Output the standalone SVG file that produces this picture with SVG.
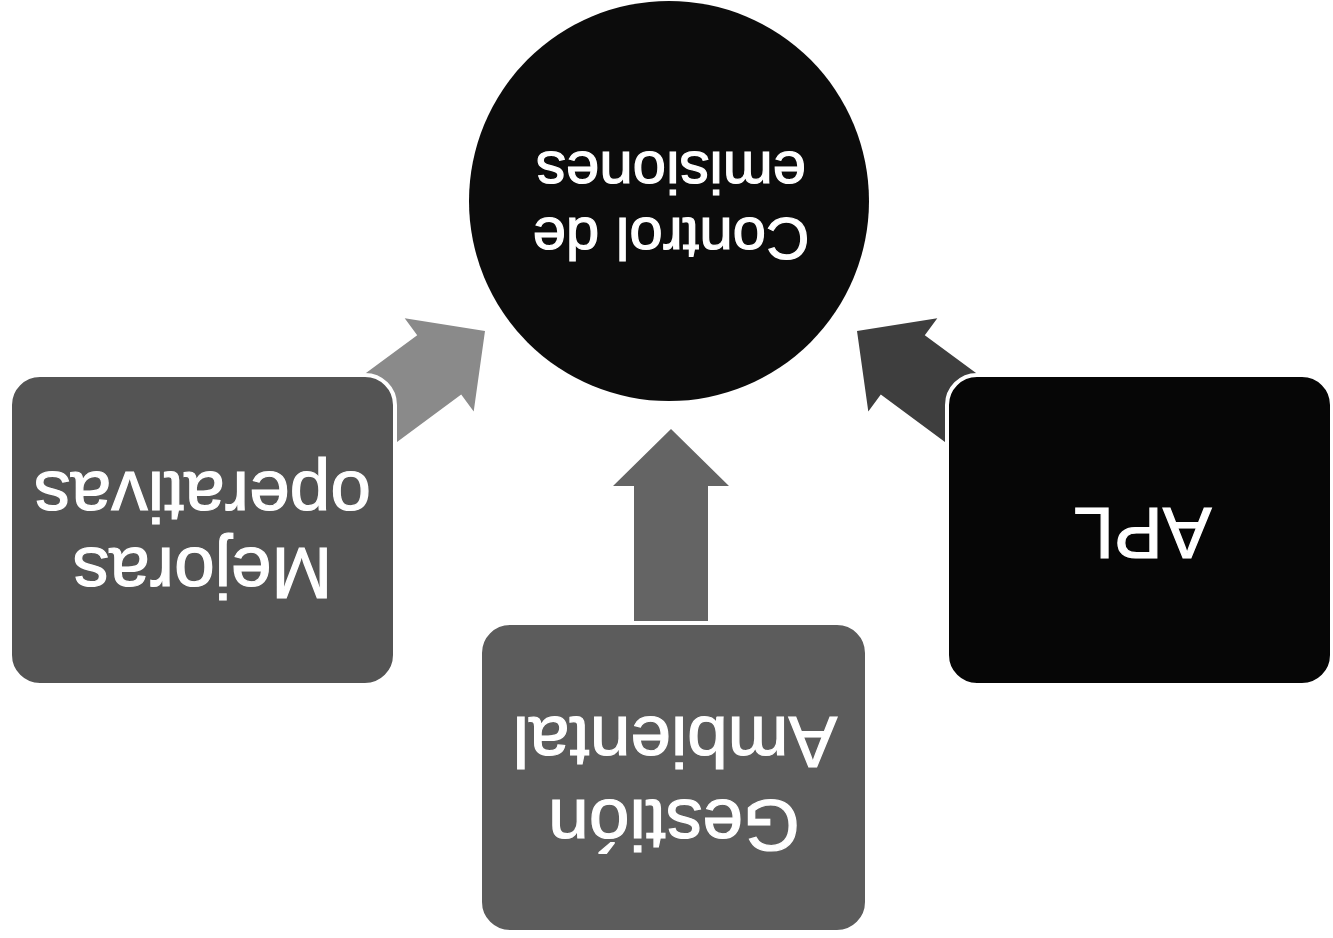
<svg xmlns="http://www.w3.org/2000/svg" width="1333" height="938" viewBox="0 0 1333 938">
<style>
.lbl{font-family:"Liberation Sans",Arial,sans-serif;fill:#ffffff;stroke:#ffffff;stroke-width:1.2;text-anchor:middle}
.box{font-size:73px}
.circ{font-size:60px}
.node{stroke:#ffffff;stroke-width:4}
</style>
<rect width="1333" height="938" fill="#ffffff"/>
<g id="connectors">
<polygon fill="#8a8a8a" points="485,331 404.7,318.3 417.2,335.2 336.8,394.6 380.8,454 461.2,394.6 473.7,411.5"/>
<polygon fill="#3e3e3e" points="857,331 937.3,318.3 924.8,335.2 1005.2,394.6 961.2,454 880.8,394.6 868.3,411.5"/>
<polygon fill="#646464" points="671,429 729,486 708,486 708,645 634,645 634,486 613,486"/>
</g>
<g id="node-center">
<circle cx="669" cy="201" r="200" fill="#0c0c0c"/>
<text class="lbl circ" x="671" y="218" transform="rotate(180 671 218)">Control de</text>
<text class="lbl circ" x="671" y="152" transform="rotate(180 671 152)">emisiones</text>
</g>
<g id="node-mejoras">
<rect class="node" x="10" y="375" width="385" height="310" rx="30" fill="#545454"/>
<text class="lbl box" x="202.5" y="548" transform="rotate(180 202.5 548)">Mejoras</text>
<text class="lbl box" x="202.5" y="472" transform="rotate(180 202.5 472)">operativas</text>
</g>
<g id="node-gestion">
<rect class="node" x="480" y="623" width="387" height="309" rx="30" fill="#5c5c5c"/>
<text class="lbl box" x="674" y="800" transform="rotate(180 674 800)">Gestión</text>
<text class="lbl box" x="675" y="717" transform="rotate(180 675 717)">Ambiental</text>
</g>
<g id="node-apl">
<rect class="node" x="947" y="375" width="385" height="310" rx="30" fill="#060606"/>
<text class="lbl box" x="1142.5" y="508" transform="rotate(180 1142.5 508)">APL</text>
</g>
</svg>
